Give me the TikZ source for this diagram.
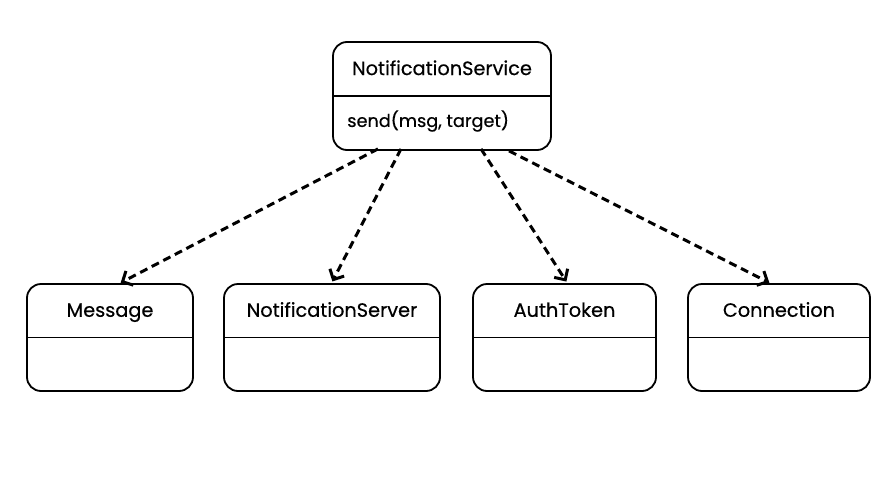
\documentclass[tikz,border=0pt]{standalone}
\usepackage{fontspec}
\setmainfont{Poppins}
\newfontfamily\umlfont{Poppins}[FakeBold=0.5]
\usepackage{tikz}
\usetikzlibrary{arrows.meta, calc, positioning}

\begin{document}
\begin{tikzpicture}[x=1pt, y=-1pt,
		umlbox/.style={draw, line width=1.8pt, rounded corners=14pt, minimum height=107pt, inner sep=0pt},
		title/.style={font=\umlfont\fontsize{19.3}{22}\selectfont, inner sep=0pt, text height=13pt, text depth=4pt},
		dep/.style={line width=3pt, dash pattern=on 8pt off 5pt, -{Straight Barb[length=8pt, width=16pt, line width=3pt]}, shorten >=3pt}]
				
				\useasboundingbox (0,0) rectangle (880,487);
				
				% service on top
				\node[umlbox, minimum width=218pt, minimum height=108pt] (svc) at (442,96) {};
				\draw[line width=1.8pt] (svc.west) -- (svc.east);
				\node[title] (svcname) at ($(svc.north)!0.5!(svc.center)+(0,2)$) {NotificationService};
				\node[title, anchor=west, font=\umlfont\fontsize{17.7}{21}\selectfont] (svcsend) at ($(svc.west)!0.5!(svc.south west)+(15,-1)$) {send(msg, target)};
				
				% the four classes below
				\node[umlbox, minimum width=166pt] (msg) at (110,337.5) {};
				\node[umlbox, minimum width=216pt] (srv) at (332,337.5) {};
				\node[umlbox, minimum width=183pt] (tok) at (564.5,337.5) {};
				\node[umlbox, minimum width=182pt] (con) at (779,337.5) {};
				\foreach \b/\t in {msg/Message, srv/NotificationServer, tok/AuthToken, con/Connection} {
					\draw[line width=1.8pt] (\b.west) -- (\b.east);
					\node[title] (\b name) at ($(\b.north)!0.5!(\b.center)+(0,2)$) {\t};
				}
				
				% dependencies
				\draw[dep] ([xshift=-64pt, yshift=2pt]svc.south) -- ([xshift=8pt, yshift=-1pt]msg.north);
				\draw[dep] ([xshift=-41pt, yshift=2pt]svc.south) -- ([xshift=-1pt, yshift=-1pt]srv.north);
				\draw[dep] ([xshift=39pt, yshift=2pt]svc.south) -- ([xshift=3.5pt, yshift=-1pt]tok.north);
				\draw[dep] ([xshift=67pt, yshift=0pt]svc.south) -- ([xshift=-7pt, yshift=-1pt]con.north);
			\end{tikzpicture}
\end{document}
